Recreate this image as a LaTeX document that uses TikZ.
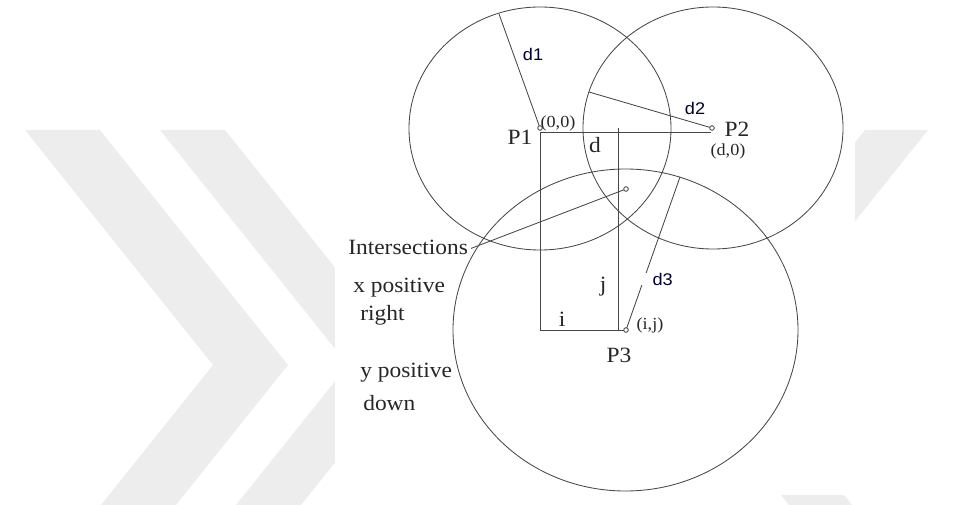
\documentclass[tikz,border=0pt]{standalone}
\usepackage{fontspec}
\setmainfont{Liberation Serif}[FakeStretch=1.075]
\newfontfamily\radfont{Liberation Sans}[FakeStretch=1.075]

\begin{document}
\begin{tikzpicture}[x=.025cm,y=-.025cm,
  geo/.style={black!72,line width=.6pt},
  ptdot/.style={geo,fill=white},
  txt/.style={inner sep=0pt,text=black!85,font=\fontsize{15.5}{17}\selectfont},
  crd/.style={inner sep=0pt,text=black!85,font=\fontsize{12}{13}\selectfont},
  rad/.style={inner sep=0pt,text=black!80!blue!90!black,font=\radfont\fontsize{12}{13}\selectfont}]
\path[use as bounding box] (0,0) rectangle (979,505);
% faint background marks
\fill[black!7] (25,130)--(100,130)--(288,365)--(176,505)--(101,505)--(213,365)--cycle;
\fill[black!7] (160,130)--(225,130)--(413,365)--(301,505)--(236,505)--(348,365)--cycle;
\fill[black!7] (865,130)--(928,130)--(740,365)--(852,505)--(789,505)--(677,365)--cycle;
\fill[white] (335,0) rectangle (855,495);

% centres and points
\coordinate (P1) at (540,128);
\coordinate (P2) at (712,128);
\coordinate (P3) at (626,330);
\coordinate (X) at (626,189);
\coordinate (c1) at (540,132);
\coordinate (c2) at (711,132);
\coordinate (c3) at (540,330);
\coordinate (jt) at (618,128);
\coordinate (jb) at (618,330);
\coordinate (r1) at (499,14);
\coordinate (r2) at (589,92);
\coordinate (r3) at (680,177);

% the three circles
\draw[geo] (540,128.5) ellipse [x radius=131,y radius=121.5];
\draw[geo] (713,128) ellipse [x radius=130,y radius=121];
\draw[geo] (625.5,330) ellipse [x radius=172.5,y radius=161];

% i, j and d
\draw[geo] (c2)--(c1)--(c3)--(P3);
\draw[geo] (jt)--(jb);

% radii
\draw[geo] (P1)--(r1);
\draw[geo] (P2)--(r2);
\draw[geo] (P3)--(r3);

\node[txt,anchor=west] (inter) at (348,247) {Intersections};
\draw[geo] (inter.east)++(2pt,-1pt) coordinate (lead) -- (X);

\draw[ptdot] (P1) circle[radius=2.3];
\draw[ptdot] (P2) circle[radius=2.3];
\draw[ptdot] (P3) circle[radius=2.3];
\draw[ptdot] (X) circle[radius=2.3];

\node[txt] (p1) at (520,137) {P1};
\node[crd] (o1) at (558,123) {(0,0)};
\node[txt] (dd) at (595,145) {d};
\node[txt] (p2) at (737,129) {P2};
\node[crd] (o2) at (728,151) {(d,0)};
\node[txt] (jj) at (603,287) {j};
\node[txt] (ii) at (562,319) {i};
\node[crd] (o3) at (650,325) {(i,j)};
\node[txt] (p3) at (619,355) {P3};
\node[rad] (d1) at (533,54) {d1};
\node[rad] (d2) at (695,108) {d2};
\node[rad,anchor=west,fill=white,inner xsep=8pt] (d3) at (641,279) {d3};

\node[txt,anchor=west] (xpos) at (353,288) {x positive};
\node[txt,anchor=west] (xdir) at (360,315) {right};
\node[txt,anchor=west] (ypos) at (360,373) {y positive};
\node[txt,anchor=west] (ydir) at (363,403) {down};
\end{tikzpicture}
\end{document}
